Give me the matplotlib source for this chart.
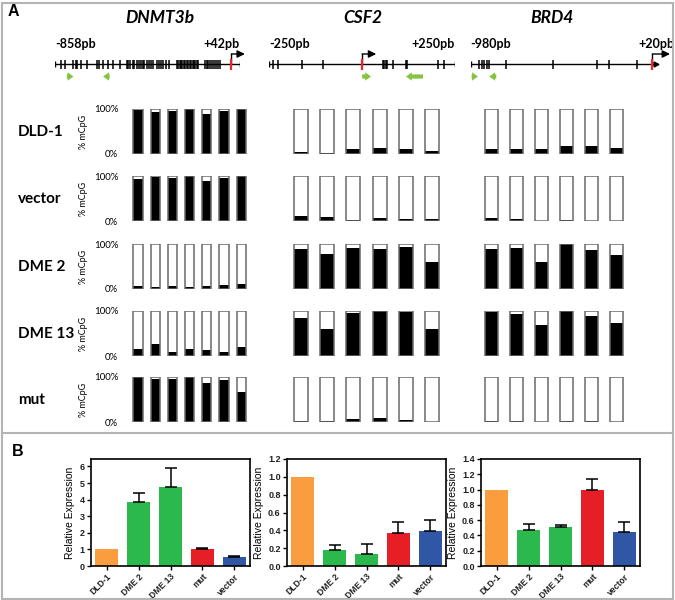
import numpy as np
import matplotlib
matplotlib.use('Agg')
import matplotlib.pyplot as plt
from matplotlib.lines import Line2D

W, H = 675, 600

# ---- gene maps (positions in bp relative to TSS) ----
genes = ['DNMT3b', 'CSF2', 'BRD4']
gene_start = [-858, -250, -980]
gene_end = [42, 250, 20]
cpg_dnmt3b = [-830, -809, -769, -757, -750, -733, -704, -652, -642, -623, -599, -577, -542,
              -509, -501, -493, -480, -472, -460, -451, -441, -431, -423, -412, -402, -392, -380,
              -363, -353, -344, -331, -318, -302,
              -266, -259, -252, -245, -238, -231, -224, -217, -210, -203, -196, -189, -182, -175, -168, -161,
              -128, -120, -112, -104, -94, -84, -75, -64, -55]
cpg_csf2 = [-239, -227, -163, -106, 57, 60, 63, 66, 82, 118, 121, 205, 221]
cpg_brd4 = [-934, -921, -908, -894, -880, -789, -537, -300, -232, -84]
cpgs = [cpg_dnmt3b, cpg_csf2, cpg_brd4]
# primer arrows (tail, tip)
primers = [[(-800, -768), (-592, -624)],
           [(0, 24), (164, 118)],
           [(-975, -941), (-842, -880)]]
arrow_tip = [66, 38, 96]

# ---- methylation (fraction of methylated CpG) ----
cell_lines = ['DLD-1', 'vector', 'DME 2', 'DME 13', 'mut']
meth_dnmt3b = [[0.98, 0.94, 0.96, 1.0, 0.89, 0.96, 1.0],
               [0.93, 0.97, 0.96, 1.0, 0.90, 0.95, 1.0],
               [0.06, 0.045, 0.07, 0.045, 0.07, 0.09, 0.11],
               [0.15, 0.26, 0.09, 0.15, 0.13, 0.10, 0.19],
               [1.0, 0.96, 0.96, 1.0, 0.87, 0.94, 0.66]]
meth_csf2 = [[0.04, 0.03, 0.10, 0.13, 0.11, 0.06],
             [0.11, 0.08, 0.02, 0.06, 0.04, 0.04],
             [0.88, 0.77, 0.92, 0.90, 0.93, 0.59],
             [0.85, 0.59, 0.96, 1.0, 0.98, 0.60],
             [0.02, 0.02, 0.06, 0.08, 0.05, 0.01]]
meth_brd4 = [[0.10, 0.12, 0.10, 0.18, 0.18, 0.13],
             [0.07, 0.05, 0.01, 0.03, 0.01, 0.01],
             [0.90, 0.92, 0.59, 1.0, 0.87, 0.76],
             [0.98, 0.93, 0.70, 1.0, 0.88, 0.74],
             [0.03, 0.02, 0.01, 0.03, 0.02, 0.01]]
meths = [meth_dnmt3b, meth_csf2, meth_brd4]

# ---- relative expression ----
expr_labels = ['DLD-1', 'DME 2', 'DME 13', 'mut', 'vector']
expr_dnmt3b = [1.0, 3.85, 4.78, 1.03, 0.52]
err_dnmt3b = [0, 0.58, 1.10, 0.07, 0.06]
expr_csf2 = [1.0, 0.18, 0.14, 0.365, 0.39]
err_csf2 = [0, 0.055, 0.11, 0.13, 0.13]
expr_brd4 = [1.0, 0.475, 0.515, 0.99, 0.44]
err_brd4 = [0, 0.075, 0.025, 0.145, 0.13]
exprs = [expr_dnmt3b, expr_csf2, expr_brd4]
errs = [err_dnmt3b, err_csf2, err_brd4]
bar_colors = ['#f99d3e', '#2bb84d', '#2bb84d', '#e61f26', '#2f57a6']

fontA = ['Lato', 'DejaVu Sans']
fontB = ['Liberation Sans', 'DejaVu Sans']
green = '#86c440'
red = '#e8262b'

fig = plt.figure(figsize=(W / 100, H / 100), dpi=100)


def px_axes(x0, y0, x1, y1):
    return fig.add_axes([x0 / W, 1 - y1 / H, (x1 - x0) / W, (y1 - y0) / H])


# frame and divider
fig.add_artist(plt.Rectangle((1.5 / W, 1.5 / H), (W - 4) / W, (H - 4) / H, transform=fig.transFigure,
                             fill=False, edgecolor='#b4b4b4', lw=1.5))
fig.add_artist(Line2D([1.5 / W, (W - 2.5) / W], [1 - 433 / H, 1 - 433 / H], transform=fig.transFigure,
                      color='#b4b4b4', lw=1.5))
fig.text(8 / W, 1 - 12 / H, 'A', fontsize=11.5, weight='bold', family=fontB, va='center')
fig.text(12 / W, 1 - 451 / H, 'B', fontsize=11.5, weight='bold', family=fontB, va='center')

# ---- gene maps ----
gene_px = [(55, 240), (269.3, 455), (470.7, 656)]
title_x = [160, 363, 552]
for g in range(3):
    ax = px_axes(gene_px[g][0], 30, gene_px[g][1], 90)
    ax.set_xlim(gene_start[g], gene_end[g])
    ax.set_ylim(90, 30)
    ax.axis('off')
    s, e = gene_start[g], gene_end[g]
    ax.plot([s, e], [64, 64], color='k', lw=1)
    ax.vlines([s, e], 61, 67, color='k', lw=1)
    ax.vlines(cpgs[g], 59.5, 68.5, color='k', lw=1.1)
    ax.vlines(0, 58.5, 69.5, color=red, lw=1.6, zorder=3)
    ax.plot([0, 0], [64, 54], color='k', lw=1, clip_on=False)
    ax.annotate('', xy=(arrow_tip[g], 54), xytext=(0, 54), annotation_clip=False,
                arrowprops=dict(arrowstyle='-|>,head_length=0.45,head_width=0.22', color='k', lw=1,
                                shrinkA=0, shrinkB=0))
    for tail, tip in primers[g]:
        ax.annotate('', xy=(tip, 76.5), xytext=(tail, 76.5), annotation_clip=False,
                    arrowprops=dict(arrowstyle='simple,head_length=0.7,head_width=1.0,tail_width=0.5',
                                    color=green, lw=0, shrinkA=0, shrinkB=0, mutation_scale=6))
    ax.text(s, 44, f'{s}pb', ha='left', va='center', fontsize=9, weight='bold', family=fontA)
    ax.text(e, 44, f'+{e}pb', ha='center' if g == 2 else 'right', va='center', fontsize=9,
            weight='bold', family=fontA, clip_on=False)
    fig.text(title_x[g] / W, 1 - 18 / H, genes[g], ha='center', va='center', fontsize=12.5,
             weight='bold', style='italic', family=fontA)

ax.plot([gene_end[2]], [64], marker='>', color='k', markersize=3.5, clip_on=False)

# ---- methylation bars ----
row_top = [109, 176, 244, 311, 377]
row_h = 45
col_px = [(129.4, 249.8), (287.9, 445.1), (479, 629)]
bar_w = [0.54, 0.53, 0.52]
for r, name in enumerate(cell_lines):
    y0 = row_top[r]
    fig.text(18 / W, 1 - (y0 + 23) / H, name, ha='left', va='center', fontsize=11,
             weight='bold', family=fontA)
    for g in range(3):
        ax = px_axes(col_px[g][0], y0, col_px[g][1], y0 + row_h)
        vals = np.array(meths[g][r])
        x = np.arange(len(vals))
        ax.bar(x, vals, width=bar_w[g], color='black', lw=0)
        ax.bar(x, 1 - vals, bottom=vals, width=bar_w[g], color='white', lw=0)
        ax.bar(x, np.ones(len(vals)), width=bar_w[g], fill=False, edgecolor='#6a6a6a', lw=1.1)
        ax.set_xlim(-0.5, len(vals) - 0.5)
        ax.set_ylim(0, 1)
        for sp in ax.spines.values():
            sp.set_visible(False)
        ax.set_xticks([])
        if g == 0:
            ax.set_yticks([0, 1])
            ax.set_yticklabels(['0%', '100%'], fontsize=7, family=fontA)
            ax.tick_params(axis='y', length=0, pad=8)
            ax.set_ylabel('% mCpG', fontsize=6.5, family=fontA, labelpad=4)
        else:
            ax.set_yticks([])
        ax.patch.set_alpha(0)

# ---- relative expression ----
b_px = [(91, 250), (287, 446), (481, 640)]
ylims = [6.45, 1.2, 1.4]
yticks = [np.arange(0, 7, 1), np.arange(0, 1.21, 0.2), np.arange(0, 1.41, 0.2)]
yfmt = ['{:.0f}', '{:.1f}', '{:.1f}']
for g in range(3):
    ax = px_axes(b_px[g][0], 459, b_px[g][1], 566)
    x = np.arange(len(expr_labels))
    ax.bar(x, exprs[g], width=0.72, color=bar_colors, lw=0)
    e = np.array(errs[g])
    m = e > 0
    ax.errorbar(x[m], np.array(exprs[g])[m], yerr=[np.zeros(m.sum()), e[m]], fmt='none',
                ecolor='black', elinewidth=1.1, capsize=4, capthick=1.1)
    ax.set_xlim(-0.5, len(x) - 0.5)
    ax.set_ylim(0, ylims[g])
    ax.set_yticks(yticks[g])
    ax.set_yticklabels([yfmt[g].format(v) for v in yticks[g]], fontsize=6.5, weight='bold',
                       family=fontB, color='#222222')
    ax.set_xticks(x)
    ax.set_xticklabels(expr_labels, rotation=45, ha='right', rotation_mode='anchor', fontsize=6.2,
                       weight='bold', family=fontB, color='#222222')
    ax.tick_params(length=3, width=1, pad=1.5)
    for sp in ax.spines.values():
        sp.set_linewidth(1.2)
    ax.set_ylabel('Relative Expression', fontsize=7.5, family=fontB, labelpad=3)

fig.savefig('out.png', dpi=100)
